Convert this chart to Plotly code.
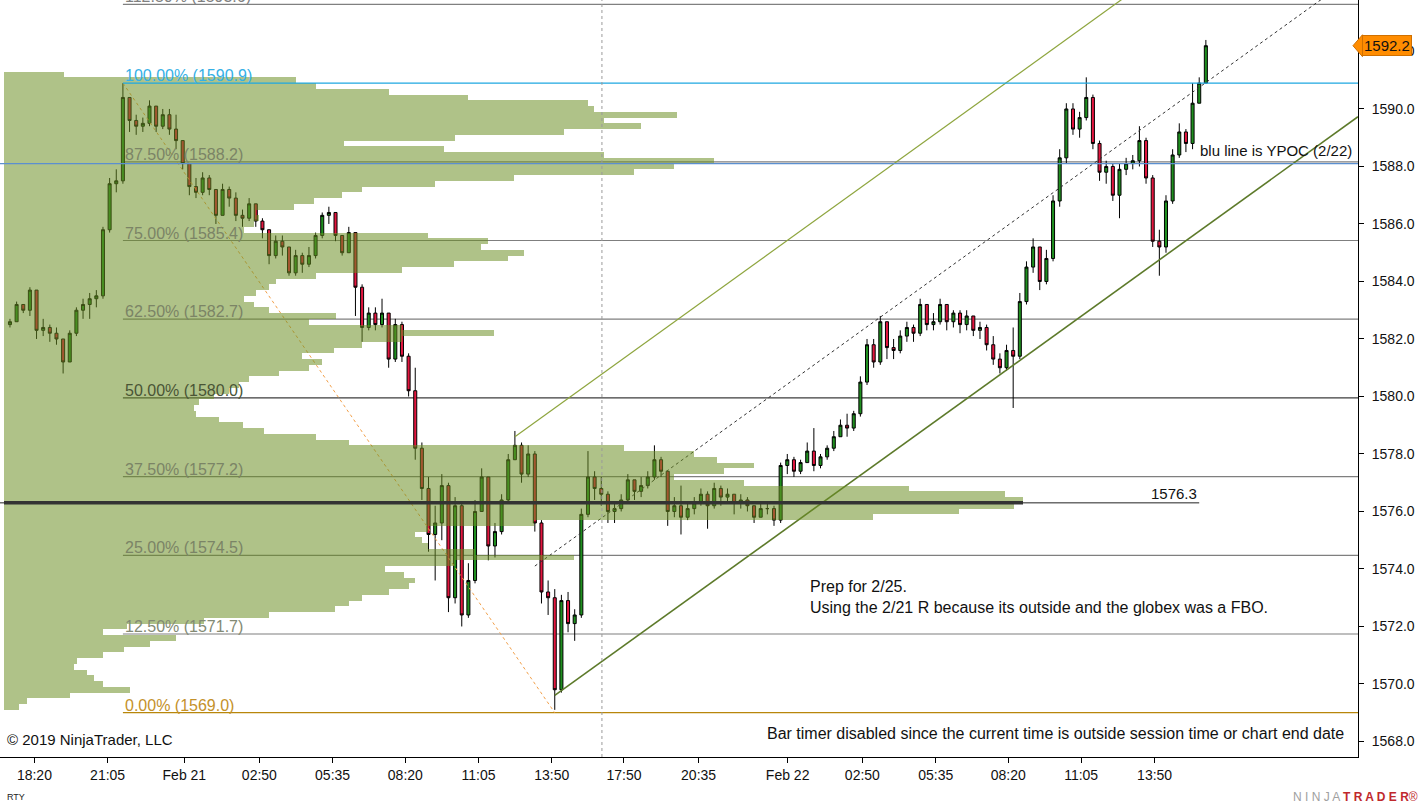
import plotly.graph_objects as go

# velas de 15 min, indice de barra contado desde a abertura (17:00 de 20/fev)
bar_idx = list(range(1, 182))
first_open = 1582.5
bar_close = [
    1582.6, 1583.2, 1583.0, 1583.7, 1582.3, 1582.4, 1582.2, 1582.0, 1581.2, 1582.2,
    1583.0, 1583.2, 1583.4, 1583.5, 1585.8, 1587.4, 1587.5, 1590.4, 1589.6, 1589.4,
    1589.5, 1590.1, 1589.4, 1589.8, 1589.3, 1588.9, 1588.1, 1587.3, 1587.1, 1587.6,
    1587.2, 1586.3, 1587.2, 1586.9, 1586.3, 1586.2, 1586.7, 1586.1, 1585.8, 1584.9,
    1585.4, 1585.2, 1584.3, 1584.9, 1584.6, 1584.9, 1585.6, 1586.3, 1586.4, 1585.6,
    1585.0, 1585.7, 1583.8, 1582.4, 1582.9, 1582.5, 1582.9, 1581.3, 1582.5, 1581.4,
    1580.2, 1578.2, 1576.8, 1575.2, 1575.6, 1576.9, 1573.0, 1576.2, 1572.4, 1573.6,
    1576.0, 1577.2, 1574.8, 1575.3, 1576.4, 1577.8, 1578.3, 1577.3, 1578.0, 1575.6,
    1573.2, 1573.0, 1569.8, 1572.9, 1572.1, 1572.4, 1575.9, 1577.2, 1576.8, 1576.6,
    1576.0, 1576.1, 1576.4, 1577.1, 1576.7, 1576.9, 1577.2, 1577.8, 1577.4, 1576.0,
    1576.2, 1575.8, 1576.1, 1576.3, 1576.6, 1576.2, 1576.8, 1576.5, 1576.6, 1576.3,
    1576.4, 1576.2, 1575.8, 1576.1, 1576.1, 1575.7, 1577.6, 1577.8, 1577.4, 1577.7,
    1578.1, 1577.6, 1577.9, 1578.2, 1578.6, 1579.0, 1578.9, 1579.4, 1580.5, 1581.8,
    1581.2, 1582.6, 1581.7, 1581.6, 1582.1, 1582.4, 1582.2, 1583.2, 1582.5, 1582.6,
    1583.2, 1582.6, 1582.9, 1582.5, 1582.8, 1582.3, 1582.4, 1581.8, 1581.3, 1581.0,
    1581.6, 1581.4, 1583.3, 1584.5, 1585.2, 1584.0, 1584.8, 1586.8, 1588.3, 1590.0,
    1589.3, 1589.7, 1590.4, 1588.8, 1587.8, 1588.0, 1587.0, 1587.9, 1588.1, 1588.2,
    1588.9, 1587.6, 1585.4, 1585.2, 1586.8, 1588.4, 1589.2, 1588.8, 1590.2, 1590.9,
    1592.2,
]
bar_high = [
    1582.7, 1583.3, 1583.2, 1583.8, 1583.5, 1582.7, 1582.5, 1582.4, 1582.0, 1582.3,
    1583.1, 1583.4, 1583.6, 1583.7, 1585.9, 1587.6, 1587.9, 1590.9, 1590.3, 1589.8,
    1589.7, 1590.3, 1590.0, 1590.0, 1590.0, 1589.8, 1588.9, 1588.0, 1587.6, 1587.8,
    1587.7, 1587.2, 1587.4, 1587.3, 1587.1, 1586.5, 1586.9, 1586.7, 1586.2, 1585.8,
    1585.6, 1585.6, 1585.2, 1585.1, 1585.0, 1585.2, 1585.7, 1586.4, 1586.6, 1586.3,
    1585.5, 1585.9, 1585.7, 1583.9, 1583.1, 1583.1, 1583.4, 1582.9, 1582.7, 1582.6,
    1581.5, 1581.0, 1578.4, 1577.2, 1576.2, 1577.3, 1577.0, 1576.5, 1576.3, 1574.2,
    1576.4, 1577.5, 1577.2, 1575.6, 1576.6, 1578.0, 1578.8, 1578.4, 1578.3, 1578.1,
    1575.7, 1573.6, 1573.3, 1573.1, 1573.2, 1572.6, 1576.1, 1578.1, 1577.4, 1577.2,
    1576.7, 1576.3, 1576.6, 1577.3, 1577.1, 1577.2, 1577.4, 1578.3, 1577.9, 1577.4,
    1576.5, 1576.9, 1576.3, 1576.5, 1576.8, 1576.7, 1577.0, 1576.9, 1576.8, 1576.6,
    1576.6, 1576.5, 1576.2, 1576.3, 1576.3, 1576.2, 1577.7, 1578.0, 1577.9, 1577.8,
    1578.4, 1578.9, 1578.0, 1578.3, 1578.8, 1579.2, 1579.4, 1579.5, 1580.7, 1582.0,
    1582.0, 1582.8, 1582.6, 1582.0, 1582.3, 1582.6, 1582.5, 1583.4, 1583.2, 1582.9,
    1583.4, 1583.2, 1583.0, 1583.0, 1583.0, 1582.8, 1582.6, 1582.5, 1582.1, 1581.5,
    1581.8, 1582.4, 1583.6, 1584.7, 1585.5, 1585.2, 1585.1, 1587.0, 1588.6, 1590.2,
    1590.2, 1589.9, 1591.1, 1590.5, 1588.9, 1588.2, 1588.1, 1588.1, 1588.3, 1588.4,
    1589.4, 1589.0, 1587.7, 1585.8, 1587.0, 1588.6, 1589.5, 1589.3, 1590.9, 1591.1,
    1592.4,
]
bar_low = [
    1582.4, 1582.6, 1582.9, 1582.8, 1582.0, 1582.1, 1581.9, 1581.8, 1580.8, 1581.2,
    1582.1, 1582.7, 1582.7, 1583.1, 1583.4, 1585.7, 1587.1, 1587.4, 1589.2, 1589.1,
    1589.2, 1589.4, 1589.2, 1589.3, 1589.1, 1588.6, 1587.9, 1587.0, 1586.9, 1587.0,
    1587.0, 1586.0, 1586.3, 1586.6, 1586.1, 1585.9, 1586.1, 1585.9, 1585.5, 1584.6,
    1584.8, 1584.9, 1584.2, 1584.2, 1584.3, 1584.5, 1584.8, 1585.5, 1586.0, 1585.4,
    1584.9, 1585.0, 1582.8, 1581.9, 1582.3, 1582.3, 1582.4, 1581.0, 1581.2, 1581.2,
    1580.0, 1577.8, 1576.4, 1574.6, 1573.6, 1575.0, 1572.5, 1572.8, 1572.0, 1572.3,
    1573.5, 1576.0, 1574.3, 1574.4, 1575.2, 1576.3, 1577.8, 1577.0, 1577.2, 1575.3,
    1572.8, 1572.4, 1569.1, 1569.7, 1571.8, 1571.5, 1572.3, 1575.8, 1576.4, 1576.2,
    1575.6, 1575.6, 1576.0, 1576.3, 1576.4, 1576.5, 1576.8, 1577.1, 1577.2, 1575.5,
    1575.8, 1575.2, 1575.7, 1575.9, 1576.2, 1575.4, 1576.1, 1576.2, 1576.3, 1575.9,
    1576.1, 1576.0, 1575.6, 1575.8, 1575.9, 1575.5, 1575.6, 1577.3, 1577.2, 1577.3,
    1577.7, 1577.4, 1577.5, 1577.8, 1578.1, 1578.6, 1578.6, 1578.8, 1579.3, 1580.4,
    1581.0, 1581.1, 1581.3, 1581.3, 1581.5, 1581.9, 1581.9, 1582.1, 1582.3, 1582.3,
    1582.5, 1582.3, 1582.4, 1582.2, 1582.3, 1582.1, 1582.0, 1581.6, 1581.1, 1580.8,
    1580.9, 1579.6, 1581.3, 1583.2, 1584.3, 1583.7, 1583.9, 1584.7, 1586.6, 1588.1,
    1589.1, 1589.0, 1589.6, 1588.6, 1587.5, 1587.4, 1586.8, 1586.2, 1587.7, 1587.9,
    1588.0, 1587.4, 1585.2, 1584.2, 1585.0, 1586.7, 1588.3, 1588.5, 1588.6, 1590.3,
    1590.9,
]

# perfil de volume em faixas de 0.2 pontos, de baixo (1569.2) para cima (1591.2)
profile_bottom = 1569.2
profile_step = 0.2
profile_vol = [
    15, 23, 66, 126, 99, 90, 83, 70, 73, 99,
    120, 146, 172, 99, 123, 200, 265, 331, 345, 358,
    385, 405, 411, 400, 381, 451, 570, 471, 424, 418,
    411, 424, 530, 869, 955, 1010, 1019, 1001, 905, 740,
    670, 720, 750, 713, 690, 620, 345, 312, 260, 239,
    215, 192, 190, 195, 210, 225, 235, 245, 275, 305,
    318, 298, 330, 358, 398, 490, 398, 305, 332, 265,
    250, 240, 252, 265, 272, 312, 398, 450, 504, 520,
    477, 484, 424, 240, 250, 255, 252, 290, 310, 338,
    358, 431, 510, 630, 670, 710, 600, 440, 340, 451,
    560, 637, 600, 673, 590, 584, 464, 385, 312, 292,
    60,
]
profile_price = [round(profile_bottom + profile_step * k, 1) for k in range(len(profile_vol))]

# eixo de tempo
tick_pos = [4.68, 15.70, 27.25, 38.54, 49.56, 60.51, 71.53, 82.54, 93.42, 104.65,
            118.05, 129.30, 140.35, 151.26, 162.23, 173.29]
tick_text = ['18:20', '21:05', 'Feb 21', '02:50', '05:35', '08:20', '11:05', '13:50',
             '17:50', '20:35', 'Feb 22', '02:50', '05:35', '08:20', '11:05', '13:50']
session_break = 90.1
x_range = [-0.5, 203.9]
y_range = [1567.46, 1593.79]

# fibonacci
fib_high, fib_high_bar = 1590.9, 18
fib_low, fib_low_bar = 1569.0, 83
fib_ratios = [1.125, 1.0, 0.875, 0.75, 0.625, 0.5, 0.375, 0.25, 0.125, 0.0]

# canal de tendencia
chan_bar, chan_price = 83, 1569.6
chan_slope = 0.1665
chan_width = 10.0
chan_upper_bar, chan_mid_bar = 77, 80

poc_price = 1576.3
poc_label_bar = 180
ypoc_price = 1588.1

# aberturas = fechamento anterior
bar_open = [first_open] + bar_close[:-1]
bar_high = [max(h, o, c) for h, o, c in zip(bar_high, bar_open, bar_close)]
bar_low = [min(l, o, c) for l, o, c in zip(bar_low, bar_open, bar_close)]

fig = go.Figure()

fig.add_trace(go.Candlestick(
    x=bar_idx, open=bar_open, high=bar_high, low=bar_low, close=bar_close,
    increasing=dict(line=dict(color='black', width=1), fillcolor='#1f8f1f'),
    decreasing=dict(line=dict(color='black', width=1), fillcolor='#e3163f'),
    whiskerwidth=0, hoverinfo='skip', showlegend=False))

# linhas do canal
def chan_line(start_bar, offset):
    xs = [start_bar, x_range[1]]
    ys = [chan_price + offset + chan_slope * (x - chan_bar) for x in xs]
    return xs, ys

xs, ys = chan_line(chan_upper_bar, chan_width)
fig.add_trace(go.Scatter(x=xs, y=ys, mode='lines', line=dict(color='#8ea53e', width=1.2),
                         hoverinfo='skip', showlegend=False))
xs, ys = chan_line(chan_mid_bar, chan_width / 2)
fig.add_trace(go.Scatter(x=xs, y=ys, mode='lines', line=dict(color='#333333', width=1, dash='dot'),
                         hoverinfo='skip', showlegend=False))
xs, ys = chan_line(chan_bar, 0)
fig.add_trace(go.Scatter(x=xs, y=ys, mode='lines', line=dict(color='#5d7a2a', width=1.6),
                         hoverinfo='skip', showlegend=False))

# diagonal do fibonacci
fig.add_trace(go.Scatter(x=[fib_high_bar, fib_low_bar], y=[fib_high, fib_low], mode='lines',
                         line=dict(color='#f2a04a', width=1, dash='dot'),
                         hoverinfo='skip', showlegend=False))

# perfil de volume por cima das velas
fig.add_trace(go.Bar(
    y=profile_price, x=profile_vol, orientation='h', width=profile_step,
    xaxis='x2', yaxis='y',
    marker=dict(color='rgba(107,142,35,0.54)', line=dict(width=0)),
    hoverinfo='skip', showlegend=False))

shapes = []
annotations = []

fib_line_color = {1.125: '#808080', 1.0: '#1ea7e1', 0.5: '#3c3c3c', 0.0: '#b8860b'}
fib_text_color = {1.125: '#808080', 1.0: '#35b0e6', 0.5: '#4a5536', 0.125: '#838a74', 0.0: '#c4912a'}
for r in fib_ratios:
    level = fib_low + r * (fib_high - fib_low)
    shapes.append(dict(type='line', xref='x', yref='y', x0=fib_high_bar, x1=x_range[1],
                       y0=level, y1=level,
                       line=dict(color=fib_line_color.get(r, '#7f7f7f'), width=1.2),
                       layer='above' if r == 1.0 else 'below'))
    annotations.append(dict(xref='x', yref='y', x=fib_high_bar, y=level, xanchor='left',
                            yanchor='bottom', yshift=-3, showarrow=False,
                            text=f"{r * 100:.2f}% ({level + 1e-6:.1f})",
                            font=dict(size=16, color=fib_text_color.get(r, '#7b8466'))))

# YPOC azul
shapes.append(dict(type='line', xref='x', yref='y', x0=x_range[0], x1=x_range[1],
                   y0=ypoc_price, y1=ypoc_price, line=dict(color='#5b8fd0', width=1.2), layer='above'))
# separador de sessao
shapes.append(dict(type='line', xref='x', yref='paper', x0=session_break, x1=session_break,
                   y0=0, y1=1, line=dict(color='#9a9a9a', width=1, dash='dot'), layer='above'))
# POC do perfil e linha do 1576.3
shapes.append(dict(type='line', xref='x', yref='y', x0=x_range[0], x1=poc_label_bar,
                   y0=poc_price, y1=poc_price, line=dict(color='#222222', width=1), layer='above'))
shapes.append(dict(type='line', xref='x2', yref='y', x0=0, x1=max(profile_vol),
                   y0=poc_price, y1=poc_price, line=dict(color='#333333', width=3.5), layer='above'))

annotations.append(dict(xref='x', yref='y', x=poc_label_bar, y=poc_price, xanchor='right',
                        yanchor='bottom', yshift=-1, showarrow=False, text=f"{poc_price:.1f}",
                        font=dict(size=15, color='#111111')))
annotations.append(dict(xref='x', yref='y', x=179.8, y=1588.57, xanchor='left', yanchor='middle',
                        showarrow=False, text='blu line is YPOC (2/22)',
                        font=dict(size=15, color='#111111')))
annotations.append(dict(xref='x', yref='y', x=121.1, y=1573.03, xanchor='left', yanchor='middle',
                        align='left', showarrow=False,
                        text='Prep for 2/25.<br>Using the 2/21 R because its outside and the globex was a FBO.',
                        font=dict(size=16, color='#111111')))
annotations.append(dict(xref='paper', yref='paper', x=0.004, y=0.0225, xanchor='left',
                        yanchor='middle', showarrow=False, text='© 2019 NinjaTrader, LLC',
                        font=dict(size=15, color='#111111')))
annotations.append(dict(xref='paper', yref='paper', x=0.9912, y=0.0304, xanchor='right',
                        yanchor='middle', showarrow=False,
                        text='Bar timer disabled since the current time is outside session time or chart end date',
                        font=dict(size=16, color='#111111')))
annotations.append(dict(xref='paper', yref='paper', x=0.004, y=-0.0528, xanchor='left',
                        yanchor='middle', showarrow=False, text='RTY',
                        font=dict(size=9, color='#222222')))
annotations.append(dict(xref='paper', yref='paper', x=1.0457, y=-0.0528, xanchor='right',
                        yanchor='middle', showarrow=False,
                        text="<span style='color:#a0a0a0'>N I N J A </span><b style='color:#c0282d'>T R A D E R</b><span style='color:#c0282d'>®</span>",
                        font=dict(size=12)))

# etiqueta do ultimo preco
last = bar_close[-1]
annotations.append(dict(xref='paper', yref='y', x=1, xshift=4, y=last, xanchor='left',
                        yanchor='middle', showarrow=False, text=f"{last:.1f}",
                        bgcolor='#ff8c00', bordercolor='#d07000', borderwidth=1, borderpad=1,
                        font=dict(size=15, color='#111111')))
shapes.append(dict(type='path', xref='paper', yref='y', layer='above',
                   path=f"M 0.9963 {last} L 1.0033 {last + 0.38} L 1.0033 {last - 0.38} Z",
                   fillcolor='#ff8c00', line=dict(color='#d07000', width=1)))

fig.update_layout(
    width=1424, height=808,
    margin=dict(l=0, r=66, t=0, b=51),
    plot_bgcolor='white', paper_bgcolor='white',
    font=dict(family='Liberation Sans, Arial', size=14, color='black'),
    showlegend=False, barmode='overlay', bargap=0, boxgap=0.35,
    shapes=shapes, annotations=annotations,
    xaxis=dict(range=x_range, tickvals=tick_pos, ticktext=tick_text, showgrid=False,
               zeroline=False, showline=True, linecolor='black', linewidth=1,
               ticks='outside', ticklen=5, tickcolor='black',
               tickfont=dict(size=14, color='#111111'), rangeslider=dict(visible=False)),
    xaxis2=dict(overlaying='x', range=[-4, 1354], visible=False),
    yaxis=dict(range=y_range, side='right', tickvals=list(range(1568, 1594, 2)),
               tickformat='.1f', showgrid=False, zeroline=False, showline=True,
               linecolor='black', linewidth=1, ticks='outside', ticklen=5, tickcolor='black',
               ticklabelstandoff=5, tickfont=dict(size=14, color='#111111')),
)

fig.write_html("out.html", config={'displayModeBar': False},
               post_script="document.body.style.margin='0';")
